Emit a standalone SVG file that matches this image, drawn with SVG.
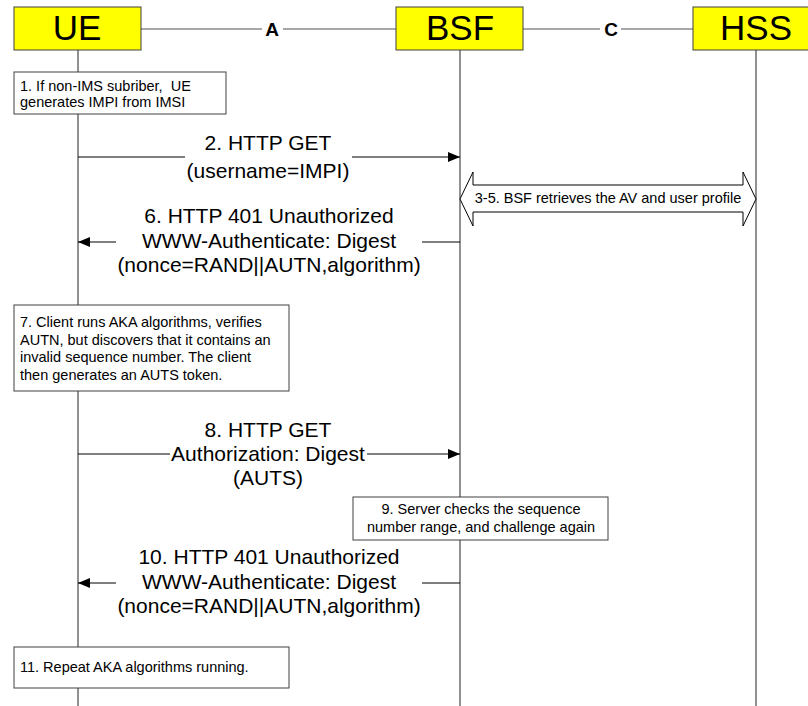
<svg xmlns="http://www.w3.org/2000/svg" width="808" height="706" viewBox="0 0 808 706">
<style>
text{font-family:"Liberation Sans",Arial,sans-serif;fill:#000}
.ent{fill:#ffff00;stroke:#404040;stroke-width:1}
.ttl{font-size:35px;text-anchor:middle}
.lbl{font-size:19px;font-weight:bold;text-anchor:middle}
.iface{stroke:#8a8a8a;stroke-width:1.6;fill:none}
.life{stroke:#222;stroke-width:1;fill:none}
.note{fill:#fff;stroke:#404040;stroke-width:1}
.sm{font-size:14.5px}
.big{font-size:21px;text-anchor:middle}
.msg{stroke:#000;stroke-width:1;fill:none}
.mid{text-anchor:middle}
</style>
<defs>
<marker id="ah" markerWidth="12" markerHeight="10" refX="12" refY="5" orient="auto" markerUnits="userSpaceOnUse">
<path d="M0,0 L12,5 L0,10 Z" fill="#000"/>
</marker>
</defs>
<rect width="808" height="706" fill="#fff"/>
<g id="lifelines">
<line class="life" x1="78" y1="50" x2="78" y2="706"/>
<line class="life" x1="460" y1="50" x2="460" y2="706"/>
<line class="life" x1="756" y1="50" x2="756" y2="706"/>
</g>
<g id="interfaces">
<line class="iface" x1="141" y1="29" x2="262" y2="29"/>
<line class="iface" x1="283" y1="29" x2="396" y2="29"/>
<text class="lbl" x="272" y="36">A</text>
<line class="iface" x1="523" y1="29" x2="600" y2="29"/>
<line class="iface" x1="621" y1="29" x2="693" y2="29"/>
<text class="lbl" x="611" y="36">C</text>
</g>
<g id="UE">
<rect class="ent" x="14" y="7" width="127" height="43"/>
<text class="ttl" x="77" y="40">UE</text>
</g>
<g id="BSF">
<rect class="ent" x="396" y="7" width="127" height="43"/>
<text class="ttl" x="460" y="40">BSF</text>
</g>
<g id="HSS">
<rect class="ent" x="693" y="7" width="127" height="43"/>
<text class="ttl" x="756" y="40">HSS</text>
</g>
<g id="note1">
<rect class="note" x="14" y="72" width="212" height="42"/>
<text class="sm" x="20" y="91" xml:space="preserve">1. If non-IMS subriber,  UE</text>
<text class="sm" x="20" y="106.5">generates IMPI from IMSI</text>
</g>
<g id="note7">
<rect class="note" x="14" y="305" width="275" height="86"/>
<text class="sm" x="20" y="327">7. Client runs AKA algorithms, verifies</text>
<text class="sm" x="20" y="344.5">AUTN, but discovers that it contains an</text>
<text class="sm" x="20" y="362">invalid sequence number. The client</text>
<text class="sm" x="20" y="379.5">then generates an AUTS token.</text>
</g>
<g id="note9">
<rect class="note" x="353" y="497" width="255" height="43"/>
<text class="sm mid" x="481" y="514">9. Server checks the sequence</text>
<text class="sm mid" x="481" y="532">number range, and challenge again</text>
</g>
<g id="note11">
<rect class="note" x="14" y="647" width="275" height="41"/>
<text class="sm" x="20" y="672">11. Repeat AKA algorithms running.</text>
</g>
<g id="connectors">
<line class="msg" x1="78" y1="157" x2="185" y2="157"/>
<line class="msg" x1="352" y1="157" x2="460" y2="157" marker-end="url(#ah)"/>
<line class="msg" x1="460" y1="242" x2="422" y2="242"/>
<line class="msg" x1="116" y1="242" x2="78" y2="242" marker-end="url(#ah)"/>
<line class="msg" x1="78" y1="454" x2="170" y2="454"/>
<line class="msg" x1="367" y1="454" x2="460" y2="454" marker-end="url(#ah)"/>
<line class="msg" x1="460" y1="583" x2="422" y2="583"/>
<line class="msg" x1="116" y1="583" x2="78" y2="583" marker-end="url(#ah)"/>
<polygon points="460,199 473,172 473,185 743,185 743,172 756,199 743,226 743,212 473,212 473,226" fill="#fff" stroke="#000" stroke-width="1"/>
</g>
<g id="labels">
<text class="big" x="268" y="150">2. HTTP GET</text>
<text class="big" x="268" y="178">(username=IMPI)</text>
<text class="sm mid" x="608" y="203">3-5. BSF retrieves the AV and user profile</text>
<text class="big" x="269" y="223">6. HTTP 401 Unauthorized</text>
<text class="big" x="269" y="248">WWW-Authenticate: Digest</text>
<text class="big" x="269" y="272">(nonce=RAND||AUTN,algorithm)</text>
<text class="big" x="268" y="437">8. HTTP GET</text>
<text class="big" x="268" y="461">Authorization: Digest</text>
<text class="big" x="268" y="485">(AUTS)</text>
<text class="big" x="269" y="564">10. HTTP 401 Unauthorized</text>
<text class="big" x="269" y="589">WWW-Authenticate: Digest</text>
<text class="big" x="269" y="613">(nonce=RAND||AUTN,algorithm)</text>
</g>
</svg>
